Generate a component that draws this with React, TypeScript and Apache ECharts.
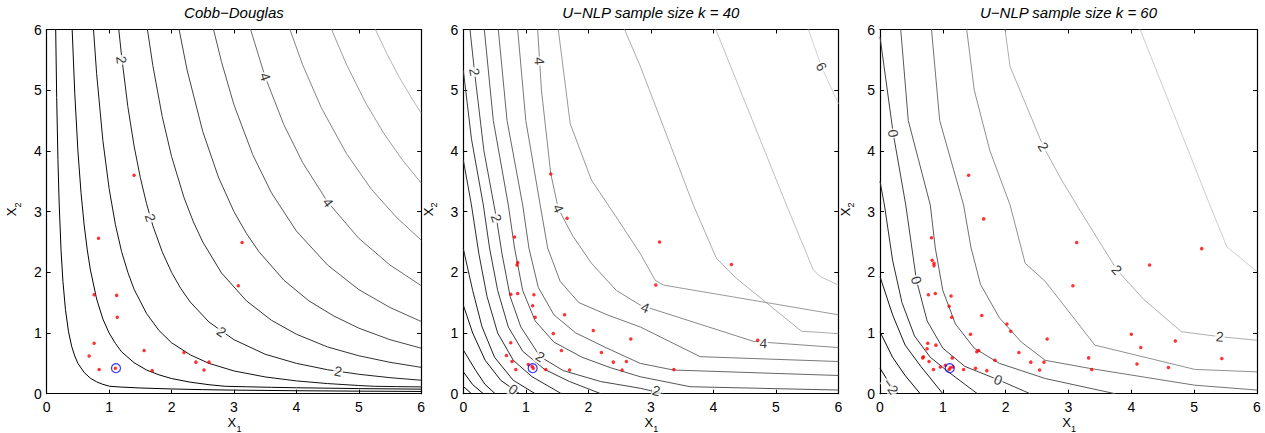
import React, { useEffect, useRef } from "react";
import * as echarts from "echarts";

// ---------- titles / ticks ----------
const panelTitles = ["Cobb\u2212Douglas", "U\u2212NLP sample size k = 40", "U\u2212NLP sample size k = 60"];
const tickMin = 0;
const tickMax = 6;

// ---------- panel 1 : Cobb-Douglas contour levels ----------
const cdLevels = [0.5, 1, 1.5, 2, 2.5, 3, 3.5, 4, 4.5, 5, 5.5];
const cd05 = [[0.144,6],[0.16,4.88],[0.18,3.86],[0.2,3.13],[0.23,2.36],[0.26,1.85],[0.3,1.39],[0.35,1.02],[0.4,0.78],[0.45,0.62],[0.5,0.5],[0.6,0.35],[0.7,0.255],[0.8,0.195],[0.9,0.154],[1.01,0.122],[1.2,0.109],[1.5,0.094],[2,0.078],[2.5,0.067],[3,0.059],[4,0.049],[5,0.042],[6,0.037]];
const cd10 = [[0.408,6],[0.45,4.94],[0.5,4],[0.55,3.31],[0.6,2.78],[0.65,2.37],[0.7,2.04],[0.8,1.56],[0.9,1.23],[1,1],[1.1,0.83],[1.2,0.69],[1.4,0.51],[1.6,0.39],[1.8,0.31],[2,0.25],[2.3,0.19],[2.6,0.148],[2.86,0.122],[3.2,0.114],[3.6,0.105],[4,0.098],[5,0.084],[6,0.075]];
const cd15 = [[0.75,6],[0.8,5.27],[0.9,4.17],[1,3.38],[1.1,2.79],[1.2,2.34],[1.3,2.0],[1.4,1.72],[1.6,1.32],[1.8,1.04],[2,0.84],[2.3,0.64],[2.6,0.5],[3,0.375],[3.5,0.276],[4,0.211],[4.5,0.167],[5,0.135],[5.25,0.122],[5.6,0.117],[6,0.112]];
const cd20 = [[1.155,6],[1.2,5.56],[1.3,4.73],[1.4,4.08],[1.5,3.56],[1.6,3.13],[1.7,2.77],[1.85,2.34],[2,2],[2.15,1.73],[2.3,1.51],[2.6,1.18],[3,0.89],[3.5,0.65],[4,0.5],[4.5,0.395],[5,0.32],[5.5,0.264],[6,0.222]];
const cd25 = [[1.614,6],[1.7,5.41],[1.85,4.57],[2,3.91],[2.2,3.23],[2.35,2.83],[2.5,2.5],[2.8,1.99],[3.2,1.53],[3.6,1.21],[4,0.98],[4.5,0.77],[5,0.625],[5.5,0.517],[6,0.434]];
const cd30 = [[2.121,6],[2.25,5.33],[2.5,4.32],[2.75,3.57],[3,3],[3.2,2.64],[3.4,2.34],[3.8,1.87],[4.2,1.53],[4.6,1.28],[5,1.08],[5.5,0.89],[6,0.75]];
const cd35 = [[2.673,6],[2.8,5.47],[3,4.76],[3.3,3.94],[3.6,3.31],[4,2.68],[4.5,2.12],[5,1.715],[5.5,1.42],[6,1.19]];
const cd40 = [[3.266,6],[3.5,5.22],[3.8,4.43],[4.1,3.81],[4.5,3.16],[5,2.56],[5.5,2.12],[6,1.78]];
const cd45 = [[3.897,6],[4.1,5.42],[4.4,4.71],[4.8,3.96],[5.2,3.37],[5.6,2.91],[6,2.53]];
const cd50 = [[4.564,6],[4.8,5.43],[5.1,4.81],[5.4,4.29],[5.7,3.85],[6,3.47]];
const cd55 = [[5.266,6],[5.45,5.6],[5.65,5.21],[5.83,4.9],[6,4.62]];
const cdLines = [cd05, cd10, cd15, cd20, cd25, cd30, cd35, cd40, cd45, cd50, cd55];
const cdLabelText = ["2", "2", "2", "2", "4", "4"];
const cdLabelPos = [[1.2,5.5],[1.66,2.9],[2.8,1.02],[4.67,0.37],[3.5,5.22],[4.51,3.15]];
const cdLabelRot = [-82, -73, -36, -10, -71, -54];

// ---------- panel 2 : U-NLP k = 40 ----------
const n40Levels = [6, 5.5, 5, 4.5, 4, 3.5, 3, 2.5, 2, 1.5, 1, 0.5, 0, -0.5, -1, -1.5];
const n40_60 = [[5.52,6],[5.73,5.39],[6,4.78]];
const n40_55 = [[4.04,6],[5.17,3.11],[5.6,2.04],[5.71,1.93],[6,1.79]];
const n40_50 = [[2.58,6],[2.83,5.4],[3.68,3.11],[4.05,2.23],[4.37,1.9],[5.41,1.03],[6,0.99]];
const n40_45 = [[1.52,6],[1.71,4.45],[2.05,3.52],[2.48,2.86],[2.83,2.31],[3.07,1.87],[3.2,1.79],[6,1.3]];
const n40_40 = [[1.19,6],[1.25,5.0],[1.4,3.62],[1.52,3.05],[1.75,2.6],[2.05,2.15],[2.45,1.7],[2.83,1.46],[4.65,0.86],[6,0.76]];
const n40_35 = [[0.87,6],[1.0,4.5],[1.23,3.11],[1.35,2.4],[1.55,1.85],[1.85,1.5],[2.3,1.3],[2.83,1.1],[3.79,0.61],[6,0.53]];
const n40_30 = [[0.56,6],[0.7,4.5],[0.95,3.11],[1.05,2.4],[1.2,1.75],[1.45,1.3],[1.8,1.0],[2.3,0.75],[2.83,0.5],[3.36,0.39],[6,0.3]];
const n40_25 = [[0.336,6],[0.48,4.5],[0.72,3.11],[0.82,2.4],[0.95,1.7],[1.15,1.2],[1.45,0.85],[1.9,0.6],[2.35,0.43],[2.83,0.28],[3.63,0.115],[6,0.06]];
const n40_20 = [[0.107,6],[0.18,5.3],[0.33,4.0],[0.53,2.89],[0.62,2.3],[0.75,1.6],[0.92,1.1],[1.23,0.61],[1.6,0.38],[2.2,0.2],[2.83,0.09],[3.2,0]];
const n40_15 = [[0,5.33],[0.13,4.2],[0.32,3.11],[0.42,2.4],[0.55,1.7],[0.72,1.1],[0.95,0.7],[1.3,0.4],[1.7,0.2],[2.2,0]];
const n40_10 = [[0,3.85],[0.13,3.11],[0.25,2.3],[0.38,1.6],[0.55,1.0],[0.8,0.55],[1.1,0.28],[1.57,0]];
const n40_05 = [[0,2.39],[0.15,1.7],[0.3,1.1],[0.5,0.6],[0.8,0.22],[1.15,0]];
const n40_00 = [[0,1.46],[0.15,1.0],[0.35,0.55],[0.6,0.22],[0.9,0]];
const n40_m05 = [[0,0.72],[0.2,0.38],[0.35,0.15],[0.51,0]];
const n40_m10 = [[0,0.36],[0.15,0.15],[0.32,0]];
const n40_m15 = [[0,0.12],[0.13,0]];
const n40Lines = [n40_60, n40_55, n40_50, n40_45, n40_40, n40_35, n40_30, n40_25, n40_20, n40_15, n40_10, n40_05, n40_00, n40_m05, n40_m10, n40_m15];
const n40LabelText = ["2", "2", "2", "0", "4", "4", "4", "4", "6", "2"];
const n40LabelPos = [[0.18,5.3],[0.53,2.89],[1.23,0.61],[0.8,0.07],[1.22,5.48],[1.52,3.05],[2.91,1.42],[4.8,0.83],[5.73,5.39],[3.09,0.05]];
const n40LabelRot = [-80, -72, -32, -35, -86, -66, -22, -3, -62, -12];

// ---------- panel 3 : U-NLP k = 60 ----------
const n60Levels = [2.5, 2, 1.5, 1, 0.5, 0, -0.5, -1, -1.5, -2];
const n60_25 = [[4.14,6],[5.25,3.11],[5.52,2.42],[6,2.01]];
const n60_20 = [[1.99,6],[2.07,5.39],[2.6,4.07],[2.89,3.52],[3.13,3.11],[3.77,2.04],[4.2,1.55],[4.8,1.02],[5.41,0.94],[6,0.88]];
const n60_15 = [[1.38,6],[1.5,5.0],[1.75,4.0],[2.07,3.11],[2.31,2.15],[2.63,1.85],[3.42,0.8],[5.01,0.4],[6,0.36]];
const n60_10 = [[0.82,6],[0.95,4.5],[1.33,3.11],[1.45,2.4],[1.6,1.8],[1.9,1.25],[2.25,0.85],[2.63,0.55],[3.32,0.42],[5.01,0.14],[6,0.06]];
const n60_05 = [[0.33,6],[0.45,4.5],[0.8,3.11],[0.88,2.4],[1.0,1.7],[1.2,1.15],[1.5,0.75],[1.9,0.5],[2.63,0.25],[3.74,0]];
const n60_00 = [[0,5.88],[0.21,4.29],[0.41,3.11],[0.58,1.87],[0.75,1.2],[1.0,0.75],[1.35,0.45],[1.88,0.23],[2.39,0]];
const n60_m05 = [[0,3.5],[0.07,3.11],[0.2,2.2],[0.35,1.5],[0.55,0.95],[0.8,0.6],[1.1,0.35],[1.55,0]];
const n60_m10 = [[0,1.93],[0.2,1.3],[0.4,0.8],[0.65,0.45],[1.0,0]];
const n60_m15 = [[0,1.02],[0.2,0.6],[0.4,0.3],[0.64,0]];
const n60_m20 = [[0,0.42],[0.15,0.17],[0.29,0]];
const n60Lines = [n60_25, n60_20, n60_15, n60_10, n60_05, n60_00, n60_m05, n60_m10, n60_m15, n60_m20];
const n60LabelText = ["0", "0", "0", "2", "2", "2", "\u22122"];
const n60LabelPos = [[0.21,4.29],[0.58,1.87],[1.88,0.23],[2.6,4.07],[3.77,2.04],[5.41,0.94],[0.17,0.12]];
const n60LabelRot = [-82, -72, -22, -58, -48, -5, -55];

// ---------- sample points ----------
const cdPoints = [[0.83,2.56],[0.76,1.63],[1.12,1.62],[1.13,1.26],[0.76,0.83],[0.68,0.62],[0.84,0.4],[1.1,0.42],[1.56,0.71],[1.69,0.38],[2.2,0.68],[2.39,0.52],[2.6,0.52],[2.52,0.39],[1.4,3.6],[3.13,2.49],[3.07,1.78]];
const n40Points = [[0.82,2.58],[0.87,2.16],[0.86,2.12],[0.76,1.64],[0.87,1.65],[1.13,1.63],[1.11,1.45],[1.15,1.26],[1.62,1.3],[1.44,0.99],[2.08,1.04],[2.68,0.9],[0.76,0.84],[1.57,0.71],[2.21,0.68],[0.69,0.63],[0.78,0.53],[2.4,0.52],[2.61,0.53],[1.04,0.48],[1.12,0.42],[1.1,0.45],[0.84,0.4],[1.32,0.4],[1.7,0.39],[2.54,0.39],[1.66,2.89],[1.4,3.62],[3.14,2.5],[4.29,2.13],[3.08,1.79],[4.71,0.88],[3.37,0.4]];
const n60Points = [[1.65,2.88],[0.82,2.57],[0.83,2.2],[0.86,2.15],[0.86,2.11],[0.77,1.63],[0.88,1.65],[1.13,1.61],[1.1,1.44],[1.14,1.26],[1.62,1.29],[1.44,0.98],[2.02,1.15],[2.08,1.03],[2.66,0.9],[0.76,0.83],[0.89,0.8],[0.75,0.74],[1.54,0.69],[1.57,0.71],[2.21,0.68],[0.69,0.61],[0.68,0.59],[0.78,0.53],[1.15,0.59],[1.04,0.47],[0.96,0.44],[1.83,0.55],[1.1,0.4],[1.12,0.43],[1.16,0.44],[0.85,0.4],[1.33,0.4],[1.52,0.42],[1.7,0.38],[2.4,0.52],[2.61,0.52],[2.54,0.39],[1.41,3.6],[3.13,2.49],[5.12,2.39],[4.29,2.12],[3.07,1.78],[4.0,0.98],[4.7,0.87],[4.15,0.76],[3.32,0.59],[5.44,0.58],[4.09,0.49],[4.59,0.43],[3.37,0.4]];
const optimumPoint = [[1.11,0.42]];

// ---------- layout (pixels) ----------
const gridLeft = [46.7, 463.3, 880];
const gridWidth = [374.5, 375, 377];
const gridTop = 29.5;
const gridHeight = 364.2;
const FONT = "'Liberation Sans', Arial, Helvetica, sans-serif";

function gray(t: number, maxV: number) {
  const v = Math.round(Math.pow(t, 1.4) * maxV);
  return `rgb(${v},${v},${v})`;
}

function buildOption() {
  const panels = [
    { lines: cdLines, levels: cdLevels, lt: cdLabelText, lp: cdLabelPos, lr: cdLabelRot, pts: cdPoints, maxGray: 180 },
    { lines: n40Lines, levels: n40Levels, lt: n40LabelText, lp: n40LabelPos, lr: n40LabelRot, pts: n40Points, maxGray: 210 },
    { lines: n60Lines, levels: n60Levels, lt: n60LabelText, lp: n60LabelPos, lr: n60LabelRot, pts: n60Points, maxGray: 205 },
  ];
  const grid: any[] = [];
  const xAxis: any[] = [];
  const yAxis: any[] = [];
  const series: any[] = [];
  const graphic: any[] = [];
  panels.forEach((p, i) => {
    grid.push({ left: gridLeft[i], top: gridTop, width: gridWidth[i], height: gridHeight });
    const common = {
      type: "value", gridIndex: i, min: tickMin, max: tickMax, interval: 1,
      splitLine: { show: false },
      axisLine: { show: true, onZero: false, lineStyle: { color: "#000", width: 1.2 } },
      axisTick: { show: true, inside: true, length: 4, lineStyle: { color: "#000", width: 1 } },
    };
    xAxis.push({ ...common, position: "bottom", axisLabel: { show: true, margin: 6, fontSize: 14, color: "#000", fontFamily: FONT } });
    xAxis.push({ ...common, position: "top", axisLabel: { show: false } });
    yAxis.push({ ...common, position: "left", axisLabel: { show: true, margin: 5, fontSize: 14, color: "#000", fontFamily: FONT } });
    yAxis.push({ ...common, position: "right", axisLabel: { show: false } });
    const lo = Math.min(...p.levels);
    const hi = Math.max(...p.levels);
    p.lines.forEach((line, j) => {
      const t = (p.levels[j] - lo) / (hi - lo);
      series.push({
        type: "line", xAxisIndex: 2 * i, yAxisIndex: 2 * i, data: line,
        symbol: "none", silent: true, smooth: false,
        lineStyle: { color: gray(t, p.maxGray), width: 1 }, z: 2, clip: true,
      });
    });
    series.push({
      type: "scatter", xAxisIndex: 2 * i, yAxisIndex: 2 * i, silent: true, z: 4,
      symbolSize: 1, itemStyle: { color: "rgba(0,0,0,0)" },
      data: p.lt.map((txt, k) => ({
        name: txt, value: p.lp[k],
        label: { show: true, position: "inside", formatter: "{b}", rotate: p.lr[k], fontSize: 14, color: "#000", fontFamily: FONT, backgroundColor: "#fff", padding: [0, 1] },
      })),
    });
    series.push({
      type: "scatter", xAxisIndex: 2 * i, yAxisIndex: 2 * i, silent: true, z: 5,
      symbolSize: 3.5, itemStyle: { color: "#ff0000" }, data: p.pts,
    });
    series.push({
      type: "scatter", xAxisIndex: 2 * i, yAxisIndex: 2 * i, silent: true, z: 6,
      symbolSize: 9, itemStyle: { color: "rgba(0,0,0,0)", borderColor: "#0000ff", borderWidth: 1.2 }, data: optimumPoint,
    });
    const cx = gridLeft[i] + gridWidth[i] / 2;
    graphic.push({ type: "text", x: cx, y: 12, style: { text: panelTitles[i], fontSize: 15, fontStyle: "italic", fontFamily: FONT, fill: "#000", align: "center", verticalAlign: "middle" } });
    graphic.push({ type: "text", x: cx - 2, y: 422, style: { text: "X", fontSize: 13, fontFamily: FONT, fill: "#000", align: "center", verticalAlign: "middle" } });
    graphic.push({ type: "text", x: cx + 5, y: 429, style: { text: "1", fontSize: 9, fontFamily: FONT, fill: "#000", align: "center", verticalAlign: "middle" } });
    const ylx = gridLeft[i] - 35;
    graphic.push({ type: "text", x: ylx, y: 212, rotation: Math.PI / 2, style: { text: "X", fontSize: 13, fontFamily: FONT, fill: "#000", align: "center", verticalAlign: "middle" } });
    graphic.push({ type: "text", x: ylx + 6, y: 205, rotation: Math.PI / 2, style: { text: "2", fontSize: 9, fontFamily: FONT, fill: "#000", align: "center", verticalAlign: "middle" } });
  });
  return { animation: false, backgroundColor: "#fff", grid, xAxis, yAxis, series, graphic };
}

export default function App() {
  const ref = useRef<HTMLDivElement>(null);
  useEffect(() => {
    const chart = echarts.init(ref.current!, null, { renderer: "svg" });
    chart.setOption(buildOption());
    return () => chart.dispose();
  }, []);
  return <div ref={ref} style={{ position: "absolute", left: 0, top: 0, width: 1265, height: 433 }} />;
}
